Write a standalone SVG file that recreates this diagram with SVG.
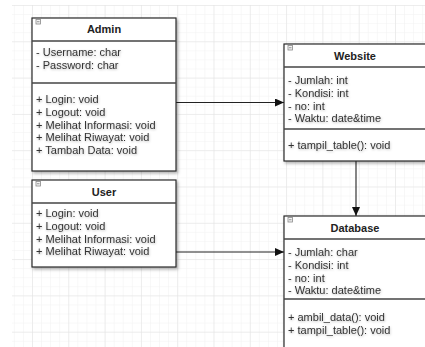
<svg xmlns="http://www.w3.org/2000/svg" width="425" height="347" viewBox="0 0 425 347">
<style>
.box{fill:#ffffff;stroke:#2a2a2a;stroke-width:1.2}
.sep{stroke:#444;stroke-width:1.4}
.t{font-family:"Liberation Sans",Arial,sans-serif;font-size:11px;fill:#333}
.title{font-family:"Liberation Sans",Arial,sans-serif;font-size:11px;font-weight:bold;fill:#222;text-anchor:middle}
.icon{fill:#f4f4f4;stroke:#888;stroke-width:0.8}
.conn{stroke:#222;stroke-width:1.1;fill:none}
</style>
<defs>
<pattern id="minor" width="9.075" height="9.075" patternUnits="userSpaceOnUse" x="32" y="5">
<path d="M0 0H9.075M0 0V9.075" stroke="#f1f1f1" stroke-width="1" fill="none"/>
</pattern>
<pattern id="major" width="36.3" height="36.3" patternUnits="userSpaceOnUse" x="32" y="5">
<path d="M0 0H36.3M0 0V36.3" stroke="#e2e2e2" stroke-width="1" fill="none"/>
</pattern>
<filter id="sh" x="-10%" y="-10%" width="130%" height="130%">
<feDropShadow dx="1.5" dy="2" stdDeviation="1.5" flood-color="#000" flood-opacity="0.3"/>
</filter>
<filter id="ts" x="-5%" y="-20%" width="110%" height="160%">
<feDropShadow dx="0.5" dy="1" stdDeviation="0.8" flood-color="#000" flood-opacity="0.25"/>
</filter>
<marker id="arr" markerWidth="10" markerHeight="8" refX="9" refY="4" orient="auto" markerUnits="userSpaceOnUse">
<path d="M0 0L9 4L0 8Z" fill="#111"/>
</marker>
</defs>
<rect width="425" height="347" fill="#ffffff"/>
<rect x="12" y="5" width="413" height="342" fill="url(#minor)"/>
<rect x="12" y="5" width="413" height="342" fill="url(#major)"/>

<g id="connectors">
<line class="conn" x1="176" y1="102.5" x2="284" y2="102.5" marker-end="url(#arr)"/>
<line class="conn" x1="176" y1="252" x2="284" y2="252" marker-end="url(#arr)"/>
<line class="conn" x1="356" y1="161" x2="356" y2="216" marker-end="url(#arr)"/>
</g>

<g id="admin">
<rect class="box" x="32" y="18" width="144" height="153" filter="url(#sh)"/>
<line class="sep" x1="32" y1="41" x2="176" y2="41"/>
<line class="sep" x1="32" y1="83" x2="176" y2="83"/>
<rect class="icon" x="36" y="19.5" width="4.5" height="4.5"/><line x1="37" y1="21.75" x2="39.5" y2="21.75" stroke="#777" stroke-width="0.8"/>
<text class="title" x="104" y="33">Admin</text>
<g class="t" filter="url(#ts)">
<text x="36" y="56">- Username: char</text>
<text x="36" y="68.8">- Password: char</text>
<text x="36" y="103">+ Login: void</text>
<text x="36" y="115.8">+ Logout: void</text>
<text x="36" y="128.6">+ Melihat Informasi: void</text>
<text x="36" y="141.4">+ Melihat Riwayat: void</text>
<text x="36" y="154.2">+ Tambah Data: void</text>
</g>
</g>

<g id="user">
<rect class="box" x="32" y="180" width="144" height="87" filter="url(#sh)"/>
<line class="sep" x1="32" y1="203" x2="176" y2="203"/>
<rect class="icon" x="36" y="181.5" width="4.5" height="4.5"/><line x1="37" y1="183.75" x2="39.5" y2="183.75" stroke="#777" stroke-width="0.8"/>
<text class="title" x="104" y="196">User</text>
<g class="t" filter="url(#ts)">
<text x="36" y="217">+ Login: void</text>
<text x="36" y="229.8">+ Logout: void</text>
<text x="36" y="242.6">+ Melihat Informasi: void</text>
<text x="36" y="255.4">+ Melihat Riwayat: void</text>
</g>
</g>

<g id="website">
<rect class="box" x="284" y="44" width="142" height="117" filter="url(#sh)"/>
<line class="sep" x1="284" y1="67" x2="426" y2="67"/>
<line class="sep" x1="284" y1="129" x2="426" y2="129"/>
<rect class="icon" x="288" y="45.5" width="4.5" height="4.5"/><line x1="289" y1="47.75" x2="291.5" y2="47.75" stroke="#777" stroke-width="0.8"/>
<text class="title" x="355" y="60">Website</text>
<g class="t" filter="url(#ts)">
<text x="288" y="84">- Jumlah: int</text>
<text x="288" y="96.8">- Kondisi: int</text>
<text x="288" y="109.6">- no: int</text>
<text x="288" y="122.4">- Waktu: date&amp;time</text>
<text x="288" y="149">+ tampil_table(): void</text>
</g>
</g>

<g id="database">
<rect class="box" x="284" y="216" width="142" height="140" filter="url(#sh)"/>
<line class="sep" x1="284" y1="239" x2="426" y2="239"/>
<line class="sep" x1="284" y1="299" x2="426" y2="299"/>
<rect class="icon" x="288" y="217.5" width="4.5" height="4.5"/><line x1="289" y1="219.75" x2="291.5" y2="219.75" stroke="#777" stroke-width="0.8"/>
<text class="title" x="355" y="232">Database</text>
<g class="t" filter="url(#ts)">
<text x="288" y="256">- Jumlah: char</text>
<text x="288" y="268.8">- Kondisi: int</text>
<text x="288" y="281.6">- no: int</text>
<text x="288" y="294.4">- Waktu: date&amp;time</text>
<text x="288" y="321">+ ambil_data(): void</text>
<text x="288" y="333.5">+ tampil_table(): void</text>
</g>
</g>
</svg>
